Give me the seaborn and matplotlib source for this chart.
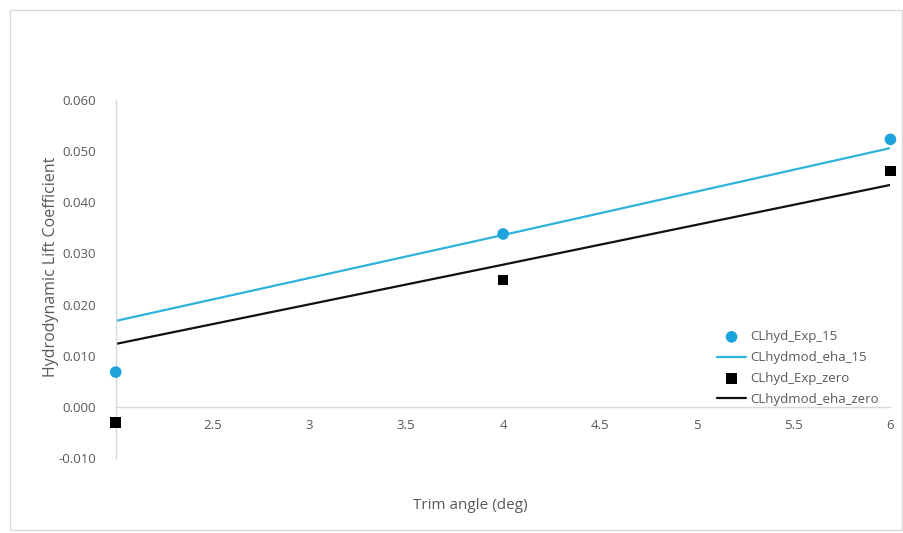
import matplotlib
matplotlib.use("Agg")
import matplotlib.pyplot as plt
import seaborn as sns
import pandas as pd
from matplotlib.patches import Rectangle

sns.set_theme(style="white")
plt.rcParams['font.family'] = ['Open Sans', 'DejaVu Sans']

trim = [2, 4, 6]
exp_15 = [0.0068, 0.0338, 0.0523]
mod_15 = [0.0168, 0.0336, 0.0506]
exp_zero = [-0.0031, 0.0248, 0.0461]
mod_zero = [0.0123, 0.0278, 0.0434]
xticks = [2, 2.5, 3, 3.5, 4, 4.5, 5, 5.5, 6]
yticks = [-0.010, 0.000, 0.010, 0.020, 0.030, 0.040, 0.050, 0.060]

df = pd.DataFrame({"trim": trim, "exp_15": exp_15, "mod_15": mod_15,
                   "exp_zero": exp_zero, "mod_zero": mod_zero})

txt = "#595959"
fig = plt.figure(figsize=(9.04, 5.33), dpi=100)
ax = fig.add_axes([0.128, 0.1407, 0.857, 0.6717])

sns.lineplot(data=df, x="trim", y="mod_15", ax=ax, color="#2fb3da", lw=1.6,
             label="CLhydmod_eha_15", zorder=2)
sns.lineplot(data=df, x="trim", y="mod_zero", ax=ax, color="#111111", lw=1.6,
             label="CLhydmod_eha_zero", zorder=2)
sns.scatterplot(data=df, x="trim", y="exp_15", ax=ax, color="#1ea3dd", s=70,
                marker="o", edgecolor="none", label="CLhyd_Exp_15", zorder=3, clip_on=False)
sns.scatterplot(data=df, x="trim", y="exp_zero", ax=ax, color="#000000", s=60,
                marker="s", edgecolor="none", label="CLhyd_Exp_zero", zorder=3, clip_on=False)

ax.set_xlim(2, 6)
ax.set_ylim(-0.010, 0.060)
ax.set_xticks(xticks)
ax.set_xticklabels(["" if v == 2 else f"{v:g}" for v in xticks])
ax.set_yticks(yticks)
ax.set_yticklabels([f"{v:.3f}" for v in yticks])
ax.tick_params(axis='both', colors=txt, labelsize=9.5, length=0)
ax.tick_params(axis='y', pad=14)
ax.tick_params(axis='x', pad=9)
for s in ["top", "right"]:
    ax.spines[s].set_visible(False)
ax.spines['bottom'].set_position(('data', 0))
ax.spines['bottom'].set_color("#d9d9d9")
ax.spines['left'].set_color("#d9d9d9")
ax.spines['bottom'].set_linewidth(1.0)
ax.spines['left'].set_linewidth(1.0)
ax.set_xlabel("")
ax.set_ylabel("")
fig.text(0.52, 0.052, "Trim angle (deg)", ha="center", va="center", color=txt, fontsize=11)
fig.text(0.056, 0.50, "Hydrodynamic Lift Coefficient", ha="center", va="center",
         rotation=90, color=txt, fontsize=11.5)

h, l = ax.get_legend_handles_labels()
order = ["CLhyd_Exp_15", "CLhydmod_eha_15", "CLhyd_Exp_zero", "CLhydmod_eha_zero"]
hd = dict(zip(l, h))
ax.legend([hd[k] for k in order], order, loc="lower right", bbox_to_anchor=(0.995, 0.123),
          frameon=False, fontsize=9.5, labelcolor=txt, handlelength=2.2,
          handletextpad=0.3, labelspacing=0.6, borderaxespad=0.2)

fig.patches.append(Rectangle((0.011, 0.006), 0.987, 0.976, transform=fig.transFigure,
                             fill=False, edgecolor="#d9d9d9", lw=1.0))
fig.savefig("out.png", dpi=100, facecolor="white")
